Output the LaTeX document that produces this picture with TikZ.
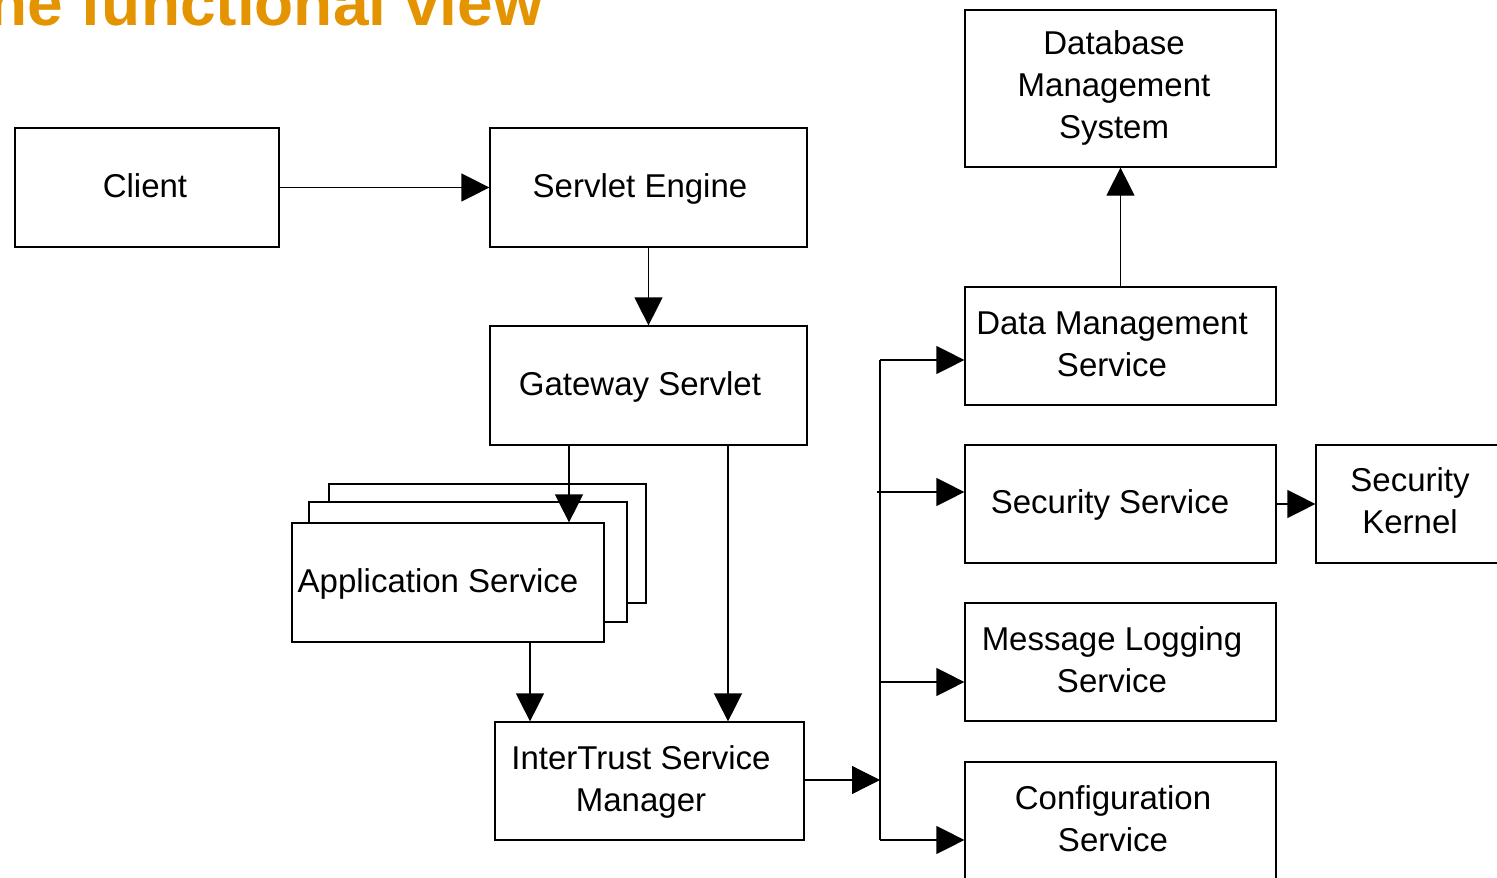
\documentclass[tikz,border=0pt]{standalone}
\usepackage{fontspec}
\setmainfont{Liberation Sans}
\usetikzlibrary{arrows.meta}
\definecolor{titleorange}{RGB}{227,148,0}
\begin{document}
\begin{tikzpicture}[x=1pt,y=-1pt,
  box/.style={draw, line width=1.2pt, fill=white, inner sep=0pt},
  lbl/.style={font=\fontsize{33}{42}\selectfont, align=center, anchor=base, inner sep=0pt},
  arr/.style={line width=1.2pt, -{Triangle[length=28pt,width=28pt]}},
  ln/.style={line width=1.2pt}]
\useasboundingbox (0,0) rectangle (1497,878);

% title
\node[font=\fontsize{64}{64}\selectfont\bfseries, text=titleorange, anchor=base west, inner sep=0pt] (title) at (-12,25) {he functional view};

% boxes
\node[box, minimum width=264pt, minimum height=119pt] (client) at (147,187.5) {};
\node[box, minimum width=317pt, minimum height=119pt] (servlet) at (648.5,187.5) {};
\node[box, minimum width=317pt, minimum height=119pt] (gateway) at (648.5,385.5) {};
\node[box, minimum width=317pt, minimum height=119pt] (appB) at (487.5,543.5) {};
\node[box, minimum width=318pt, minimum height=120pt] (appM) at (468,562) {};
\node[box, minimum width=312pt, minimum height=119pt] (app) at (448,582.5) {};
\node[box, minimum width=309pt, minimum height=118pt] (itsm) at (649.5,781) {};
\node[box, minimum width=311pt, minimum height=157pt] (dbms) at (1120.5,88.5) {};
\node[box, minimum width=311pt, minimum height=118pt] (dms) at (1120.5,346) {};
\node[box, minimum width=311pt, minimum height=118pt] (ss) at (1120.5,504) {};
\node[box, minimum width=194pt, minimum height=118pt] (sk) at (1413,504) {};
\node[box, minimum width=311pt, minimum height=118pt] (mls) at (1120.5,662) {};
\node[box, minimum width=311pt, minimum height=119pt] (cfg) at (1120.5,821.5) {};

% labels (anchor base = baseline of the last line)
\node[lbl] (clientT) at (145,197) {Client};
\node[lbl] (servletT) at (640,197) {Servlet Engine};
\node[lbl] (gatewayT) at (640,395) {Gateway Servlet};
\node[lbl] (appT) at (438,592) {Application Service};
\node[lbl] (itsmT) at (641,811) {InterTrust Service\\Manager};
\node[lbl] (dbmsT) at (1114,138) {Database\\Management\\System};
\node[lbl] (dmsT) at (1112,376) {Data Management\\Service};
\node[lbl] (ssT) at (1110,513) {Security Service};
\node[lbl] (skT) at (1410,533) {Security\\Kernel};
\node[lbl] (mlsT) at (1112,692) {Message Logging\\Service};
\node[lbl] (cfgT) at (1113,851) {Configuration\\Service};

% bus coordinates
\coordinate (busT) at (880,360);
\coordinate (busS) at (877,492);
\coordinate (busM) at (880,682);
\coordinate (busB) at (880,840);

% connectors
\draw[arr] (client) -- (servlet);
\draw[arr] (servlet) -- (gateway);
\draw[arr] ([xshift=-79.5pt]gateway.south) -- ([xshift=-79.5pt]gateway.south |- app.north);
\draw[arr] ([xshift=79.5pt]gateway.south) -- ([xshift=79.5pt]gateway.south |- itsm.north);
\draw[arr] ([xshift=82pt]app.south) -- ([xshift=82pt]app.south |- itsm.north);
\draw[ln] (busT) -- (busB);
\draw[arr] (itsm.east |- 0,780) -- (880,780);
\draw[arr] (busT) -- (dms.west |- busT);
\draw[arr] (busS) -- (ss.west |- busS);
\draw[arr] (busM) -- (mls.west |- busM);
\draw[arr] (busB) -- (cfg.west |- busB);
\draw[arr] (ss) -- (sk);
\draw[arr] (dms) -- (dbms);
\end{tikzpicture}
\end{document}
